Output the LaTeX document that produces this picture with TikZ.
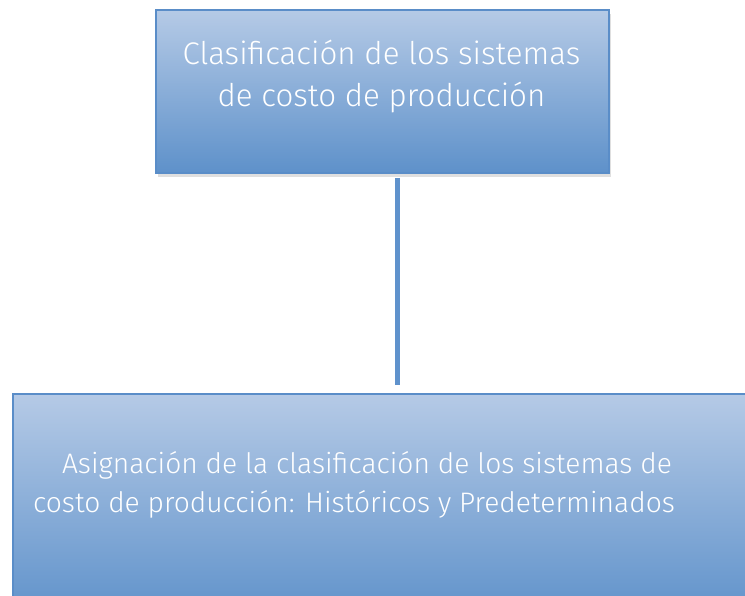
\documentclass[tikz,border=0pt]{standalone}
\usepackage{fontspec}
\setmainfont{Fira Sans Light}
\usetikzlibrary{shadows}
\definecolor{gtop}{HTML}{B5CAE6}
\definecolor{gbot}{HTML}{5E91CA}
\definecolor{bord}{HTML}{5A8DC8}
\definecolor{conn}{HTML}{5F92CC}
\tikzset{
  gbox/.style={draw=bord, line width=1.3pt, top color=gtop, bottom color=gbot,
    drop shadow={opacity=0.25, shadow xshift=1.5pt, shadow yshift=-4pt}},
  btext/.style={text=white, align=center, inner sep=0pt, anchor=base},
  connline/.style={draw=conn, line width=5pt}
}
\begin{document}
\begin{tikzpicture}[x=1pt,y=-1pt]
\clip (0,0) rectangle (745,596);
\fill[white] (0,0) rectangle (745,596);
\path[gbox] (156,10) rectangle (609,173);
\node[btext, font=\fontsize{31.3}{42}\selectfont] (top) at (381.5,107) {Clasificación de los sistemas\\de costo de producción};
\path[gbox] (13,394) rectangle (770,620);
\node[btext, font=\fontsize{28.2}{39}\selectfont] (bot) at (354,512) {\hspace{26pt}Asignación de la clasificación de los sistemas de\\costo de producción: Históricos y Predeterminados};
\coordinate (c1) at (397.5,178);
\coordinate (c2) at (397.5,385);
\draw[connline] (c1) -- (c2);
\end{tikzpicture}
\end{document}
